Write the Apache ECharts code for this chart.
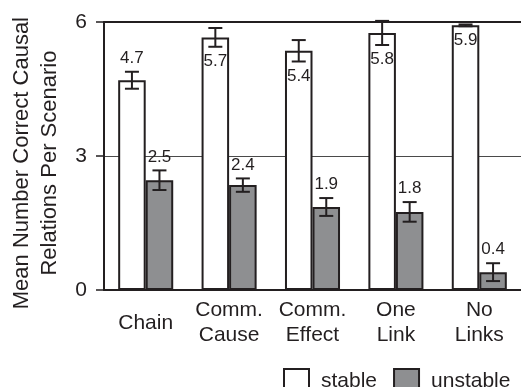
<!DOCTYPE html>
<html>
<head>
<meta charset="utf-8">
<script src="https://cdn.jsdelivr.net/npm/echarts@6/dist/echarts.min.js"></script>
<style>
html,body{margin:0;padding:0;background:#fff;}
#chart{width:521px;height:387px;}
</style>
</head>
<body>
<div id="chart"></div>
<script>
// ---- data ----
var categories = ['Chain', 'Comm.\nCause', 'Comm.\nEffect', 'One\nLink', 'No\nLinks'];
var stableValues = [4.70, 5.66, 5.36, 5.76, 5.93];
var stableErrors = [0.19, 0.21, 0.24, 0.27, 0.02];
var stableLabels = ['4.7', '5.7', '5.4', '5.8', '5.9'];
var stableLabelPlace = ['above', 'below', 'below', 'below', 'below'];
var unstableValues = [2.46, 2.35, 1.86, 1.75, 0.40];
var unstableErrors = [0.22, 0.15, 0.20, 0.22, 0.20];
var unstableLabels = ['2.5', '2.4', '1.9', '1.8', '0.4'];
var unstableLabelPlace = ['above', 'above', 'above', 'above', 'above'];
var yTicks = [0, 3, 6];
var seriesNames = ['stable', 'unstable'];

// ---- styles ----
var INK = '#231f20';
var GRAY = '#8e8f91';
var FONT = '"Liberation Sans", Arial, Helvetica, sans-serif';
var BAR_FRAC = 0.33;

function errData(vals, errs, labels, place) {
  return vals.map(function (v, i) { return [i, v, errs[i], labels[i], place[i]]; });
}

function makeErrRender(side) {
  return function (params, api) {
    var i = api.value(0), v = api.value(1), e = api.value(2);
    var label = api.value(3), place = api.value(4);
    var band = api.size([1, 0])[0];
    var off = side * band * BAR_FRAC / 2;
    var c = api.coord([i, v]);
    var x = c[0] + off;
    var yHi = api.coord([i, v + e])[1];
    var yLo = api.coord([i, v - e])[1];
    var cap = 7;
    var ls = { stroke: INK, lineWidth: 2 };
    var children = [
      { type: 'line', shape: { x1: x, y1: yHi, x2: x, y2: yLo }, style: ls },
      { type: 'line', shape: { x1: x - cap, y1: yHi, x2: x + cap, y2: yHi }, style: ls },
      { type: 'line', shape: { x1: x - cap, y1: yLo, x2: x + cap, y2: yLo }, style: ls }
    ];
    var above = place === 'above';
    children.push({
      type: 'text',
      style: {
        text: label,
        x: x,
        y: above ? yHi - 5 : yLo + 6,
        align: 'center',
        verticalAlign: above ? 'bottom' : 'top',
        fill: INK,
        font: '17px ' + FONT
      }
    });
    return { type: 'group', children: children };
  };
}

var chart = echarts.init(document.getElementById('chart'), null, { renderer: 'canvas' });

var option = {
  animation: false,
  backgroundColor: '#ffffff',
  textStyle: { fontFamily: FONT, color: INK },
  grid: { left: 103, top: 19, width: 423, height: 271, containLabel: false },
  legend: {
    data: seriesNames,
    left: 278,
    top: 363,
    itemWidth: 25,
    itemHeight: 25,
    itemGap: 16,
    icon: 'rect',
    textStyle: { fontSize: 21, color: INK, fontFamily: FONT, padding: [0, 0, 0, 7] }
  },
  xAxis: [{
    type: 'category',
    data: categories,
    position: 'bottom',
    axisLine: { show: true, lineStyle: { color: INK, width: 2 } },
    axisTick: { show: false },
    axisLabel: {
      color: INK, fontSize: 21, fontFamily: FONT, lineHeight: 25,
      margin: 33, verticalAlign: 'middle', interval: 0
    },
    splitLine: { show: false }
  }, {
    type: 'category',
    data: categories,
    position: 'top',
    axisLine: { show: true, lineStyle: { color: INK, width: 2 } },
    axisTick: { show: false },
    axisLabel: { show: false },
    splitLine: { show: false }
  }],
  yAxis: {
    type: 'value',
    min: yTicks[0],
    max: yTicks[yTicks.length - 1],
    interval: yTicks[1] - yTicks[0],
    name: 'Mean Number Correct Causal\nRelations Per Scenario',
    nameLocation: 'middle',
    nameGap: 40,
    nameTextStyle: { fontSize: 22, color: INK, fontFamily: FONT, lineHeight: 28, padding: [0, 14, 0, 0] },
    axisLine: { show: true, lineStyle: { color: INK, width: 2 } },
    axisTick: { show: true, length: 8, lineStyle: { color: INK, width: 1.5 } },
    axisLabel: { color: INK, fontSize: 21, fontFamily: FONT, margin: 17 },
    splitLine: { show: true, lineStyle: { color: '#4a4a4a', width: 1 } }
  },
  series: [{
    name: seriesNames[0],
    type: 'bar',
    data: stableValues,
    barWidth: (BAR_FRAC * 100) + '%',
    barGap: '0%',
    itemStyle: { color: '#ffffff', borderColor: INK, borderWidth: 2 },
    z: 2
  }, {
    name: seriesNames[1],
    type: 'bar',
    data: unstableValues,
    barWidth: (BAR_FRAC * 100) + '%',
    barGap: '0%',
    itemStyle: { color: GRAY, borderColor: INK, borderWidth: 2 },
    z: 2
  }, {
    type: 'custom',
    renderItem: makeErrRender(-1),
    data: errData(stableValues, stableErrors, stableLabels, stableLabelPlace),
    encode: { x: 0, y: 1 },
    z: 5,
    silent: true
  }, {
    type: 'custom',
    renderItem: makeErrRender(1),
    data: errData(unstableValues, unstableErrors, unstableLabels, unstableLabelPlace),
    encode: { x: 0, y: 1 },
    z: 5,
    silent: true
  }]
};
chart.setOption(option);
</script>
</body>
</html>
